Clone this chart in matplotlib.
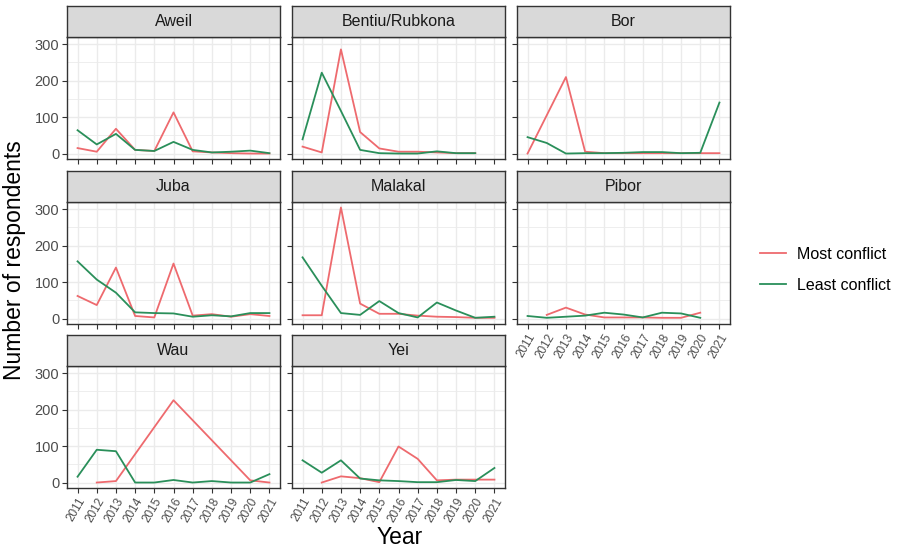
import numpy as np
import matplotlib.pyplot as plt
from matplotlib.lines import Line2D

plt.rcParams['font.family'] = ['Liberation Sans', 'DejaVu Sans']

years = list(range(2011, 2022))
sites = ["Aweil", "Bentiu/Rubkona", "Bor", "Juba", "Malakal", "Pibor", "Wau", "Yei"]

# respondents per year, None = no responses that year
most = {
    "Aweil":          [15, 5, 68, 10, 7, 113, 6, 3, 1, 0, 0],
    "Bentiu/Rubkona": [19, 3, 286, 59, 14, 5, 5, 3, 1, 1, None],
    "Bor":            [0, 105, 210, 5, 1, 1, 1, 1, 1, 1, 1],
    "Juba":           [62, 37, 140, 7, 3, 151, 8, 12, 5, 12, 7],
    "Malakal":        [9, 9, 305, 41, 13, 13, 8, 5, 4, 2, 2],
    "Pibor":          [None, 10, 30, 11, 3, 3, 3, 2, 2, 16, None],
    "Wau":            [None, 0, 4, None, None, 226, None, None, None, 6, 0],
    "Yei":            [None, 0, 17, 12, 1, 99, 65, 6, 8, 8, 8],
}
least = {
    "Aweil":          [64, 25, 54, 10, 7, 32, 10, 3, 5, 8, 1],
    "Bentiu/Rubkona": [39, 222, 117, 10, 1, 0, 0, 6, 1, 1, None],
    "Bor":            [45, 29, 0, 1, 1, 2, 4, 4, 1, 2, 140],
    "Juba":           [157, 107, 71, 17, 15, 14, 5, 9, 6, 15, 15],
    "Malakal":        [168, 90, 15, 10, 48, 15, 3, 44, 22, 2, 5],
    "Pibor":          [7, 2, 5, 8, 16, 11, 3, 16, 14, 2, None],
    "Wau":            [16, 90, 86, 0, 0, 7, 0, 4, 0, 0, 23],
    "Yei":            [61, 27, 61, 11, 6, 4, 1, 1, 7, 4, 40],
}

red = "#EE6A6E"
green = "#2A8F5A"
W, H = 907, 551

fig = plt.figure(figsize=(W / 100, H / 100), dpi=100)

col_x = [67, 292, 517]
panel_w = 213
row_top = [37, 202, 366]
panel_h = 122
strip_h = 31

def series(vals):
    pts = [(y, v) for y, v in zip(years, vals) if v is not None]
    return [p[0] for p in pts], [p[1] for p in pts]

for i, site in enumerate(sites):
    r, c = divmod(i, 3)
    x0, y0 = col_x[c], row_top[r]
    ax = fig.add_axes([x0 / W, 1 - (y0 + panel_h) / H, panel_w / W, panel_h / H])
    ax.set_xlim(2010.45, 2021.55)
    ax.set_ylim(-15, 320)
    ax.set_xticks(years)
    ax.set_yticks([0, 100, 200, 300])
    ax.set_yticks([50, 150, 250], minor=True)
    ax.grid(True, which="major", color="#EBEBEB", lw=1.0)
    ax.grid(True, which="minor", axis="y", color="#EBEBEB", lw=0.6)
    ax.set_axisbelow(True)
    for s in ax.spines.values():
        s.set_color("#333333")
        s.set_linewidth(1.0)
    ax.tick_params(which="minor", length=0)
    ax.tick_params(which="major", length=3.5, color="#333333", labelsize=10.5,
                   labelcolor="#4D4D4D", pad=2)

    xs, ys = series(most[site])
    ax.plot(xs, ys, color=red, lw=1.3)
    xs, ys = series(least[site])
    ax.plot(xs, ys, color=green, lw=1.3)

    if c != 0:
        ax.tick_params(axis="y", labelleft=False)
    bottom_row = (r == 2) or (r == 1 and c == 2)
    if bottom_row:
        ax.set_xticklabels([str(y) for y in years], rotation=60, ha="right",
                           rotation_mode="anchor", fontsize=8.5)
    else:
        ax.tick_params(axis="x", labelbottom=False)

    # facet strip
    sx = fig.add_axes([x0 / W, 1 - y0 / H, panel_w / W, strip_h / H])
    sx.set_facecolor("#D9D9D9")
    sx.set_xticks([])
    sx.set_yticks([])
    for s in sx.spines.values():
        s.set_color("#333333")
        s.set_linewidth(1.0)
    sx.text(0.5, 0.5, site, ha="center", va="center", fontsize=11.5, color="#1A1A1A")

fig.text(15 / W, 1 - 260 / H, "Number of respondents", rotation=90,
         ha="center", va="center", fontsize=16.5)
fig.text(400 / W, 1 - 537 / H, "Year", ha="center", va="center", fontsize=16.5)

handles = [Line2D([], [], color=red, lw=1.3), Line2D([], [], color=green, lw=1.3)]
fig.legend(handles, ["Most conflict", "Least conflict"], loc="center left",
           bbox_to_anchor=(746 / W, 1 - 270 / H), frameon=False, fontsize=11.5,
           handlelength=1.6, handletextpad=0.7, labelspacing=1.0)

fig.savefig("out.png", dpi=100)
